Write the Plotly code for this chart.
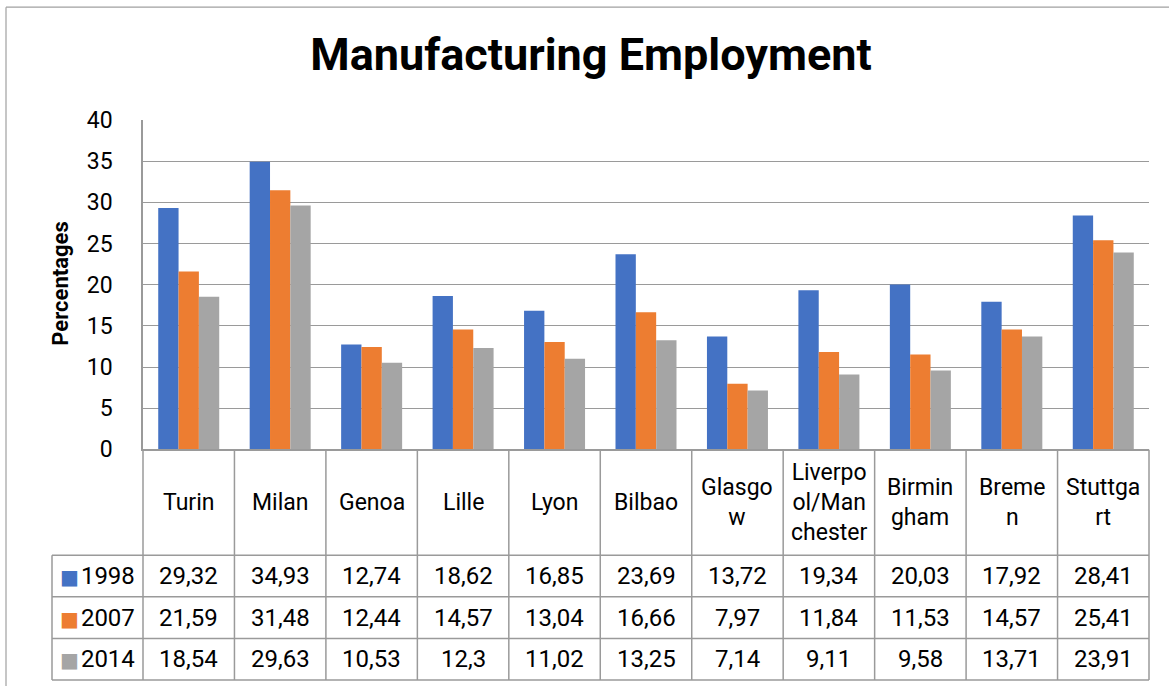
import plotly.graph_objects as go

# ---------------- data ----------------
categories = ["Turin", "Milan", "Genoa", "Lille", "Lyon", "Bilbao", "Glasgow",
              "Liverpool/Manchester", "Birmingham", "Bremen", "Stuttgart"]
category_labels = ["Turin", "Milan", "Genoa", "Lille", "Lyon", "Bilbao", "Glasgo<br>w",
                   "Liverpo<br>ol/Man<br>chester", "Birmin<br>gham", "Breme<br>n", "Stuttga<br>rt"]
years = ["1998", "2007", "2014"]
values_1998 = [29.32, 34.93, 12.74, 18.62, 16.85, 23.69, 13.72, 19.34, 20.03, 17.92, 28.41]
values_2007 = [21.59, 31.48, 12.44, 14.57, 13.04, 16.66, 7.97, 11.84, 11.53, 14.57, 25.41]
values_2014 = [18.54, 29.63, 10.53, 12.3, 11.02, 13.25, 7.14, 9.11, 9.58, 13.71, 23.91]
y_ticks = [0, 5, 10, 15, 20, 25, 30, 35, 40]
title_text = "Manufacturing Employment"
y_title = "Percentages"

# ---------------- styles ----------------
colors = ["#4472C4", "#ED7D31", "#A5A5A5"]
series = [values_1998, values_2007, values_2014]
FONT = "Roboto, 'Open Sans', sans-serif"
LINE = "#9a9a9a"
W = 1169
H_REF = 686
H = 702                         # rendered height (the photo is squeezed to 686)
SY = H / H_REF


def ys(v):
    return v * SY


# pixel layout (derived from reference)
PX_L, PX_R = 50, 1151          # paper x extent (with 2px pad)
PX_T, PX_B = ys(117), ys(680)  # paper y extent (with 2px pad)
PLOT_L, PLOT_R = 143, 1149     # bar plot area
TAB_L = 52                     # table left
ZERO_Y = ys(447)               # y pixel of 0 / table top
ROW_H = ys(678 - 553) / 3.0
CAT_ROW_H = ys(553 - 447)
n = len(categories)
unit = (PLOT_R - PLOT_L) / n
paper_w = PX_R - PX_L
paper_h = PX_B - PX_T

split = (PX_B - ZERO_Y) / paper_h
R_top = 3 + CAT_ROW_H / ROW_H
pad_x = (PLOT_L - TAB_L) / unit  # legend column width in category units (=1)
x2_lo = -0.5 - pad_x - 2 / unit
x2_hi = n - 0.5 + 2 / unit
y2_lo = -ys(2) / ROW_H

fig = go.Figure()
for yr, vals, c in zip(years, series, colors):
    fig.add_trace(go.Bar(x=categories, y=vals, name=yr, marker=dict(color=c, line=dict(width=0)),
                         xaxis="x", yaxis="y", hoverinfo="skip"))

annotations = []
shapes = []

# table value cells
for r, (yr, vals, c) in enumerate(zip(years, series, colors)):
    yc = 2.5 - r
    for i, v in enumerate(vals):
        annotations.append(dict(x=i, y=yc, xref="x2", yref="y2", showarrow=False,
                                xanchor="center", yanchor="middle",
                                text=f"{v}".replace(".", ","),
                                font=dict(family=FONT, size=24, color="#000000")))
    annotations.append(dict(x=-0.5 - pad_x / 2, y=yc, xref="x2", yref="y2", showarrow=False,
                            xanchor="center", yanchor="middle",
                            text=(f'<span style="color:{c};font-family:DejaVu Sans;font-size:20px">■</span>'
                                  f'<span style="font-size:8px"> </span>{yr}'),
                            font=dict(family=FONT, size=24, color="#000000")))

# category labels row
for i, lab in enumerate(category_labels):
    annotations.append(dict(x=i, y=(3 + R_top) / 2, xref="x2", yref="y2", showarrow=False,
                            xanchor="center", yanchor="middle",
                            text=lab, font=dict(family=FONT, size=23, color="#000000")))

# table lines
for yv in [0, 1, 2, 3]:
    shapes.append(dict(type="line", xref="x2", yref="y2", x0=-0.5 - pad_x, x1=n - 0.5, y0=yv, y1=yv,
                       line=dict(color=LINE, width=1.5)))
for k in range(n + 1):
    shapes.append(dict(type="line", xref="x2", yref="y2", x0=k - 0.5, x1=k - 0.5, y0=0, y1=R_top,
                       line=dict(color=LINE, width=1.5)))
shapes.append(dict(type="line", xref="x2", yref="y2", x0=-0.5 - pad_x, x1=-0.5 - pad_x, y0=0, y1=3,
                   line=dict(color=LINE, width=1.5)))

# outer chart border (top and left edges visible in the reference), kept inside the canvas
bx0 = (6 - PX_L) / paper_w
bx1 = (W - PX_L) / paper_w
by_top = (PX_B - ys(4)) / paper_h
by_bot = (PX_B - H) / paper_h
shapes.append(dict(type="line", xref="paper", yref="paper", x0=bx0, x1=bx1, y0=by_top, y1=by_top,
                   line=dict(color="#a0a0a0", width=1.2), layer="below"))
shapes.append(dict(type="line", xref="paper", yref="paper", x0=bx0, x1=bx0, y0=by_bot, y1=by_top,
                   line=dict(color="#a0a0a0", width=1.2), layer="below"))

# y-axis title
annotations.append(dict(x=(61 - PX_L) / paper_w, y=(PX_B - ys(281)) / paper_h, xref="paper", yref="paper",
                        xanchor="center", yanchor="middle",
                        showarrow=False, text=f"<b>{y_title}</b>", textangle=-90,
                        font=dict(family=FONT, size=22, color="#000000")))

fig.update_layout(
    width=W, height=H,
    margin=dict(l=PX_L, r=W - PX_R, t=PX_T, b=H - PX_B, pad=0),
    paper_bgcolor="white", plot_bgcolor="white",
    barmode="group", bargap=0.333, bargroupgap=0,
    showlegend=False,
    title=dict(text=f"<b>{title_text}</b>", xref="container", yref="container",
               x=591 / W, xanchor="center", y=1 - 53 / H_REF, yanchor="middle",
               font=dict(family=FONT, size=45, color="#000000")),
    xaxis=dict(domain=[(PLOT_L - PX_L) / paper_w, (PLOT_R - PX_L) / paper_w],
               range=[-0.5, n - 0.5], showticklabels=False, showgrid=False, zeroline=False,
               showline=True, linecolor=LINE, linewidth=1.5, ticks="", anchor="y",
               type="category", categoryorder="array", categoryarray=categories),
    yaxis=dict(domain=[split, 1], range=[0, 40], tickvals=y_ticks, showgrid=True,
               gridcolor=LINE, gridwidth=1.2, zeroline=False, showline=True, linecolor=LINE,
               linewidth=1.5, ticks="", ticklabelstandoff=24,
               tickfont=dict(family=FONT, size=23, color="#000000"), anchor="x"),
    xaxis2=dict(domain=[0, 1], range=[x2_lo, x2_hi], visible=False, anchor="y2"),
    yaxis2=dict(domain=[0, split], range=[y2_lo, R_top], visible=False, anchor="x2"),
    annotations=annotations, shapes=shapes,
)

fig.write_html(
    "out.html",
    config={"displayModeBar": False, "responsive": False},
    post_script=(
        "document.documentElement.style.margin='0';document.documentElement.style.overflow='hidden';"
        "document.body.style.margin='0';document.body.style.overflow='hidden';"
    ),
)
